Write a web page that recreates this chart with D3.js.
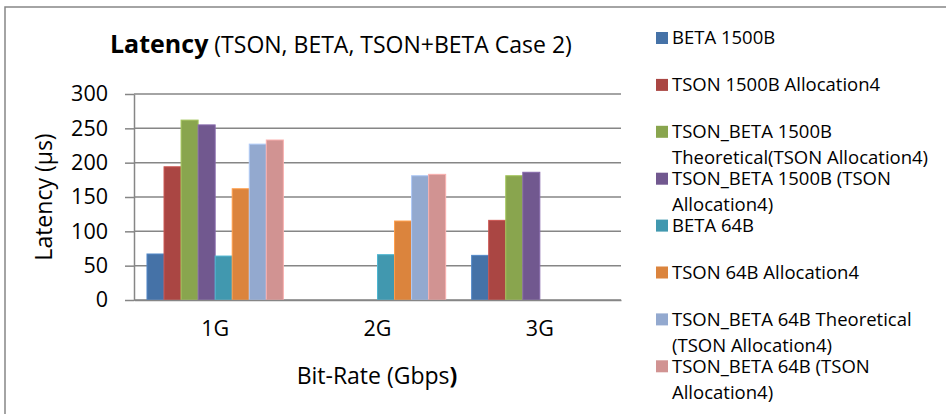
<!DOCTYPE html>
<html>
<head>
<meta charset="utf-8">
<script src="https://cdn.jsdelivr.net/npm/d3@7"></script>
<style>
  body { margin: 0; background: #fff; }
  text { font-family: "Open Sans", Lato, sans-serif; fill: #000; }
</style>
</head>
<body>
<script>
// chart data
var categories = ["1G", "2G", "3G"];
var seriesNames = [
  "BETA 1500B",
  "TSON 1500B Allocation4",
  "TSON_BETA 1500B Theoretical(TSON Allocation4)",
  "TSON_BETA 1500B (TSON Allocation4)",
  "BETA 64B",
  "TSON 64B Allocation4",
  "TSON_BETA 64B Theoretical (TSON Allocation4)",
  "TSON_BETA 64B (TSON Allocation4)"
];
// legend lines as they wrap in the picture
var legendLines = [
  ["BETA 1500B"],
  ["TSON 1500B Allocation4"],
  ["TSON_BETA 1500B", "Theoretical(TSON Allocation4)"],
  ["TSON_BETA 1500B (TSON", "Allocation4)"],
  ["BETA 64B"],
  ["TSON 64B Allocation4"],
  ["TSON_BETA 64B Theoretical", "(TSON Allocation4)"],
  ["TSON_BETA 64B (TSON", "Allocation4)"]
];
var beta1500 = [67, null, 65];
var tson1500 = [194, null, 116];
var tsonBeta1500Theo = [262, null, 181];
var tsonBeta1500 = [255, null, 186];
var beta64 = [64, 66, null];
var tson64 = [162, 115, null];
var tsonBeta64Theo = [227, 181, null];
var tsonBeta64 = [233, 183, null];
var yTicks = [0, 50, 100, 150, 200, 250, 300];

var allSeries = [beta1500, tson1500, tsonBeta1500Theo, tsonBeta1500,
                 beta64, tson64, tsonBeta64Theo, tsonBeta64];
var colors = ["#4572A7", "#AA4643", "#89A54E", "#71588F",
              "#4198AF", "#DB843D", "#93A9CF", "#D19392"];

var width = 946, height = 414;
var svg = d3.select("body").append("svg")
    .attr("width", width)
    .attr("height", height);

// outer frame (only top/left visible in the picture)
svg.append("rect")
    .attr("x", 5).attr("y", 7)
    .attr("width", 1000).attr("height", 500)
    .attr("fill", "none")
    .attr("stroke", "#868686")
    .attr("stroke-width", 1.5);

var plot = {left: 134, right: 621, top: 94, bottom: 300};

var x0 = d3.scaleBand()
    .domain(categories)
    .range([plot.left, plot.right])
    .paddingInner(0.16)
    .paddingOuter(0.08);

var x1 = d3.scaleBand()
    .domain(d3.range(seriesNames.length))
    .range([0, x0.bandwidth()]);

var y = d3.scaleLinear()
    .domain([0, 300])
    .range([plot.bottom, plot.top]);

// gridlines
svg.append("g").selectAll("line")
    .data(yTicks)
    .enter().append("line")
    .attr("x1", plot.left).attr("x2", plot.right)
    .attr("y1", function(d) { return y(d); })
    .attr("y2", function(d) { return y(d); })
    .attr("stroke", "#868686")
    .attr("stroke-width", 1.5);

// bars
var groups = svg.append("g").selectAll("g")
    .data(categories)
    .enter().append("g")
    .attr("transform", function(d) { return "translate(" + x0(d) + ",0)"; });

groups.selectAll("rect")
    .data(function(d, ci) {
        return allSeries.map(function(s, si) { return {si: si, v: s[ci]}; })
            .filter(function(e) { return e.v != null; });
    })
    .enter().append("rect")
    .attr("x", function(d) { return x1(d.si); })
    .attr("width", x1.bandwidth())
    .attr("y", function(d) { return y(d.v); })
    .attr("height", function(d) { return y(0) - y(d.v); })
    .attr("fill", function(d) { return colors[d.si]; })
    .attr("stroke", function(d) { return d3.color(colors[d.si]).brighter(0.5); })
    .attr("stroke-width", 1);

// y axis
var yAxis = svg.append("g")
    .attr("transform", "translate(" + plot.left + ",0)")
    .call(d3.axisLeft(y).tickValues(yTicks).tickSize(9).tickPadding(17).tickSizeOuter(0));
yAxis.select(".domain").attr("stroke", "#868686").attr("stroke-width", 1.5);
yAxis.selectAll(".tick line").attr("stroke", "#868686").attr("stroke-width", 1.5);
yAxis.selectAll(".tick text")
    .style("font-family", "'Open Sans', sans-serif")
    .style("font-size", "21.5px")
    .attr("fill", "#000");

// x axis baseline
var xAxis = svg.append("g")
    .attr("transform", "translate(0," + plot.bottom + ")")
    .call(d3.axisBottom(x0).tickSize(0).tickPadding(21).tickSizeOuter(0));
xAxis.select(".domain").attr("stroke", "#868686").attr("stroke-width", 1.5);
xAxis.selectAll(".tick text")
    .style("font-family", "'Open Sans', sans-serif")
    .style("font-size", "21.5px")
    .attr("fill", "#000");

// title
var title = svg.append("text")
    .attr("x", 110)
    .attr("y", 53);
title.append("tspan")
    .attr("font-weight", "bold")
    .attr("font-size", "25px")
    .text("Latency");
title.append("tspan")
    .attr("font-size", "23px")
    .text(" (TSON, BETA, TSON+BETA Case 2)");

// axis titles
svg.append("text")
    .attr("transform", "translate(52,197) rotate(-90)")
    .attr("text-anchor", "middle")
    .attr("font-size", "23px")
    .text("Latency (µs)");

var xt = svg.append("text")
    .attr("x", 377)
    .attr("y", 384)
    .attr("text-anchor", "middle")
    .attr("font-size", "23px");
xt.append("tspan").text("Bit-Rate (Gbps");
xt.append("tspan").attr("font-weight", "bold").text(")");

// legend
var legend = svg.append("g").selectAll("g")
    .data(legendLines)
    .enter().append("g")
    .attr("transform", function(d, i) { return "translate(656," + (38 + i * 46.9) + ")"; });

legend.append("rect")
    .attr("x", 0).attr("y", -6)
    .attr("width", 12).attr("height", 12)
    .attr("fill", function(d, i) { return colors[i]; });

legend.append("text")
    .attr("x", 16)
    .attr("font-size", "18.5px")
    .selectAll("tspan")
    .data(function(d) { return d; })
    .enter().append("tspan")
    .attr("x", 16)
    .attr("y", function(d, i) { return i * 26; })
    .attr("dy", "0.35em")
    .text(function(d) { return d; });
</script>
</body>
</html>
